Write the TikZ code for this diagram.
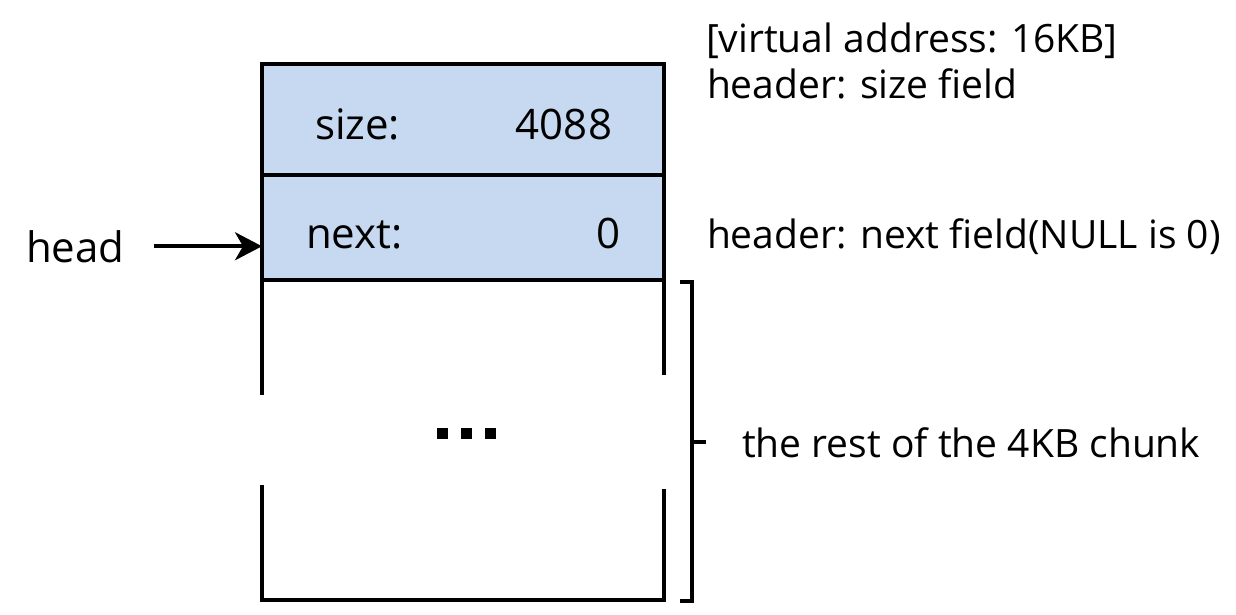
\documentclass[tikz,border=0pt]{standalone}
\usepackage{fontspec}
\setmainfont{Open Sans}
\usetikzlibrary{arrows.meta}
\definecolor{cellblue}{HTML}{C6D9F1}
\begin{document}
\begin{tikzpicture}[x=1pt,y=-1pt,
  cell/.style={draw=black, line width=3.2pt, fill=cellblue, minimum width=402pt, inner sep=0pt, outer sep=0pt},
  lbl/.style={inner sep=0pt, outer sep=0pt, font=\fontsize{39}{46}\selectfont},
  biglbl/.style={inner sep=0pt, outer sep=0pt, font=\fontsize{42}{48}\selectfont},
  edge/.style={line width=3.2pt},
  arr/.style={line width=3.6pt, -{Stealth[length=27pt,width=28pt,inset=8pt]}}]
\useasboundingbox (0,0) rectangle (1236,614);
% header cells
\node[cell, minimum height=111pt] (sizebox) at (463,119.5) {};
\node[cell, minimum height=105pt] (nextbox) at (463,227.5) {};
% rest of chunk (broken sides)
\draw[edge] (262,280) -- (262,395);
\draw[edge] (262,485) -- (262,600) -- (664,600) -- (664,489);
\draw[edge] (664,375) -- (664,280);
% dots
\foreach \cx in {442,466,490} \fill (\cx-5.5,427.5) rectangle (\cx+5.5,438.5);
% texts in cells
\node[biglbl, anchor=base west] (sizelbl) at (315,139) {size:};
\node[biglbl, anchor=base east] (sizeval) at (612,139) {4088};
\node[biglbl, anchor=base west] (nextlbl) at (306,248) {next:};
\node[biglbl, anchor=base east] (nextval) at (621,248) {0};
% head pointer
\node[biglbl, anchor=base west] (head) at (26,262) {head};
\draw[arr] ([xshift=30pt]head.east) -- (head.east -| nextbox.west);
% right notes
\node[lbl, anchor=base west] (va) at (706,52) {[virtual address: 16KB]};
\node[lbl, anchor=base west] (hsize) at (707,98) {header: size field};
\node[lbl, anchor=base west] (hnext) at (707,248) {header: next field(NULL is 0)};
% bracket
\draw[edge] (680,282) -- (692,282) -- (692,601) -- (680,601);
\draw[edge] (692,442) -- (706,442);
\node[lbl, anchor=base west] (rest) at (742,457) {the rest of the 4KB chunk};
\end{tikzpicture}
\end{document}
